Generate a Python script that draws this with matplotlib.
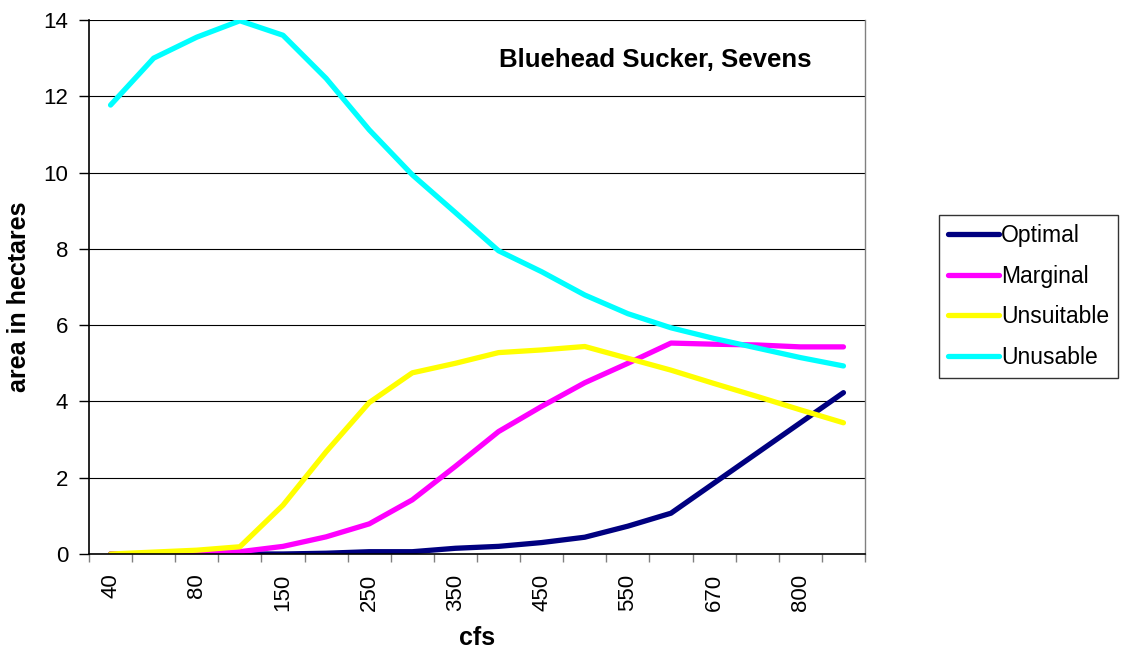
import numpy as np
import matplotlib
matplotlib.use("Agg")
import matplotlib.pyplot as plt

plt.rcParams['font.family'] = ['Liberation Sans', 'DejaVu Sans']

# flow categories (only every other one gets a label on the axis)
cfs = ["40", "60", "80", "100", "150", "200", "250", "300", "350",
       "400", "450", "500", "550", "600", "670", "740", "800", "900"]

optimal = [0, 0, 0, 0, 0, 0.02, 0.06, 0.06, 0.15, 0.2, 0.3, 0.44,
           0.73, 1.07, 1.86, 2.65, 3.44, 4.23]
marginal = [0, 0, 0.02, 0.06, 0.2, 0.45, 0.79, 1.42, 2.3, 3.21, 3.87,
            4.49, 5.0, 5.53, 5.5, 5.48, 5.43, 5.43]
unsuitable = [0, 0.05, 0.1, 0.19, 1.28, 2.68, 3.97, 4.75, 5.0, 5.28,
              5.35, 5.44, 5.13, 4.82, 4.47, 4.13, 3.78, 3.44]
unusable = [11.77, 13.0, 13.55, 13.98, 13.6, 12.47, 11.12, 9.94, 8.95,
            7.95, 7.4, 6.79, 6.3, 5.93, 5.65, 5.4, 5.15, 4.93]

series = [("Optimal", optimal, "#000080"),
          ("Marginal", marginal, "#FF00FF"),
          ("Unsuitable", unsuitable, "#FFFF00"),
          ("Unusable", unusable, "#00FFFF")]

fig = plt.figure(figsize=(11.23, 6.54), dpi=100)
ax = fig.add_axes([89 / 1123, 100 / 654, (865 - 89) / 1123, (554 - 20) / 654])

x = np.arange(len(cfs))
for name, vals, col in series:
    ax.plot(x, vals, color=col, lw=3.8, label=name, solid_capstyle='round')

ax.set_xlim(-0.5, len(cfs) - 0.5)
ax.set_ylim(0, 14)
ax.set_yticks(np.arange(0, 15, 2))
ax.yaxis.grid(True, color='black', lw=0.8)
ax.set_axisbelow(True)

# labels on every other category, tick marks on the category boundaries
ax.set_xticks(x[::2])
ax.set_xticklabels(cfs[::2], rotation=90, fontsize=16)
ax.set_xticks(np.arange(-0.5, len(cfs), 1), minor=True)
ax.tick_params(axis='x', which='major', length=0, pad=14)
ax.tick_params(axis='x', which='minor', length=6, color='#808080', width=1)
ax.tick_params(axis='y', length=7, width=1, pad=8, labelsize=16)

for s in ['left', 'bottom']:
    ax.spines[s].set_color('black')
    ax.spines[s].set_linewidth(1.2)
ax.spines['top'].set_visible(False)
ax.spines['right'].set_color('#808080')
ax.spines['right'].set_linewidth(1.0)

ax.set_xlabel("cfs", fontsize=18, fontweight='bold', labelpad=11)
ax.set_ylabel("area in hectares", fontsize=18, fontweight='bold')
ax.yaxis.set_label_coords(-0.075, 0.481)
ax.text(0.73, 0.925, "Bluehead Sucker, Sevens", transform=ax.transAxes,
        ha='center', va='center', fontsize=18.5, fontweight='bold')

leg = fig.legend(loc='center left', bbox_to_anchor=(939 / 1123, 1 - 296.5 / 654),
                 fontsize=16.5, frameon=True, fancybox=False, handlelength=2.2,
                 handletextpad=0.1, labelspacing=0.78, borderpad=0.4,
                 borderaxespad=0)
leg.get_frame().set_edgecolor('black')
leg.get_frame().set_linewidth(1.0)

fig.savefig("out.png", dpi=100)
